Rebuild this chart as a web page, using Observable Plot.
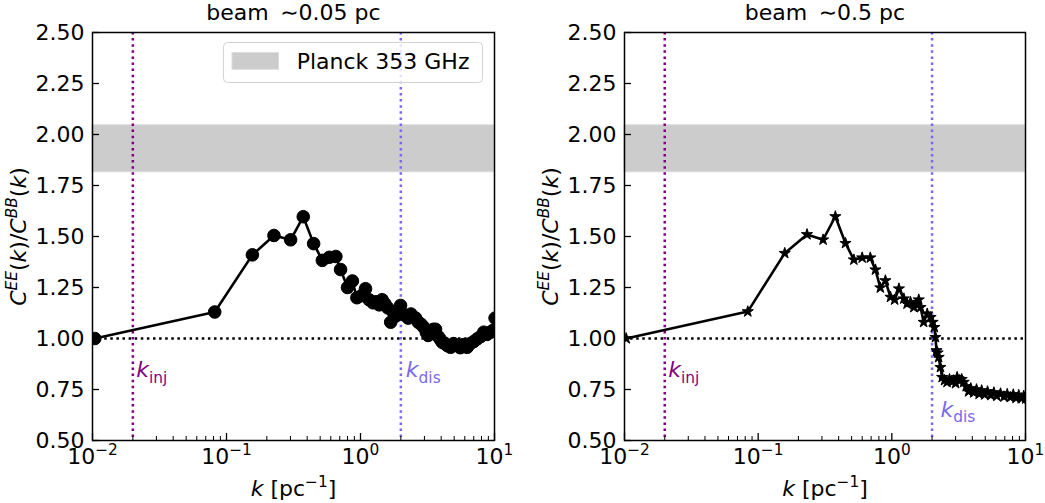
<!DOCTYPE html>
<html><head><meta charset="utf-8">
<script src="https://cdn.jsdelivr.net/npm/d3@7"></script>
<script src="https://cdn.jsdelivr.net/npm/@observablehq/plot@0.6"></script>
<style>
body{margin:0;background:#fff;}
#wrap{display:flex;width:1045px;height:503px;overflow:hidden;}
svg{font-family:"DejaVu Sans";}
</style></head><body><div id="wrap"></div>
<script>
// ---- data ----
const kLeft = [0.0104,0.0817,0.156,0.226,0.301,0.374,0.447,0.519,0.585,0.655,0.71,0.80,0.87,0.94,1.02,1.09,1.16,1.24,1.31,1.38,1.45,1.52,1.60,1.68,1.75,1.83,1.91,1.99,2.07,2.17,2.27,2.38,2.48,2.58,2.70,2.83,2.97,3.10,3.20,3.35,3.50,3.63,3.80,3.95,4.07,4.25,4.45,4.70,4.95,5.27,5.55,5.85,6.25,6.6,7.0,7.43,7.9,8.32,8.8,9.33,9.75,10.1];
const ratioLeft = [1.000,1.130,1.410,1.505,1.484,1.597,1.465,1.383,1.398,1.402,1.338,1.250,1.282,1.200,1.210,1.244,1.190,1.175,1.180,1.165,1.190,1.170,1.150,1.080,1.130,1.110,1.130,1.162,1.120,1.113,1.100,1.120,1.105,1.100,1.080,1.070,1.055,1.030,1.015,1.035,1.045,1.045,1.010,0.995,0.982,0.975,0.965,0.957,0.975,0.966,0.955,0.970,0.957,0.975,0.985,0.998,1.010,1.031,1.020,1.031,1.040,1.100];
const kRight = [0.0103,0.0836,0.158,0.232,0.306,0.378,0.450,0.520,0.600,0.690,0.754,0.820,0.895,0.977,1.05,1.13,1.23,1.30,1.38,1.46,1.52,1.59,1.64,1.73,1.84,1.95,2.02,2.08,2.12,2.16,2.20,2.24,2.31,2.38,2.48,2.59,2.70,2.80,2.90,3.00,3.08,3.20,3.33,3.45,3.6,3.75,3.9,4.1,4.3,4.5,4.7,4.95,5.2,5.5,5.8,6.1,6.5,6.9,7.3,7.7,8.1,8.5,8.9,9.3,9.7,10.05];
const ratioRight = [1.000,1.132,1.418,1.510,1.484,1.598,1.467,1.386,1.396,1.396,1.337,1.249,1.284,1.203,1.190,1.244,1.195,1.170,1.178,1.153,1.170,1.190,1.153,1.080,1.121,1.104,1.080,1.055,1.006,0.941,0.930,0.908,0.859,0.810,0.795,0.786,0.800,0.790,0.794,0.780,0.810,0.795,0.800,0.786,0.765,0.740,0.755,0.735,0.750,0.728,0.745,0.725,0.740,0.722,0.735,0.718,0.730,0.715,0.727,0.712,0.725,0.708,0.722,0.706,0.718,0.705];
const planckBand = [1.815, 2.045];
const kInj = 0.02, kDis = 2.0;
const titles = ["beam \u2009∼0.05 pc", "beam \u2009∼0.5 pc"];
const yLabel = "*C*^{*EE*}(*k*)/*C*^{*BB*}(*k*)";
const xLabel = "*k* [pc^{−1}]";
const legendLabel = "Planck 353 GHz";
const yTicks = [0.5,0.75,1.0,1.25,1.5,1.75,2.0,2.25,2.5];
const xTicks = [0.01,0.1,1,10];
const xTickLabels = ["10^{−2}","10^{−1}","10^{0}","10^{1}"];
const annLeft = [{k:kInj, y:0.809, t:"*k*_{inj}", c:"purple", dx:3.5},{k:kDis, y:0.809, t:"*k*_{dis}", c:"mediumslateblue", dx:5}];
const annRight = [{k:kInj, y:0.809, t:"*k*_{inj}", c:"purple", dx:3.5},{k:kDis, y:0.614, t:"*k*_{dis}", c:"mediumslateblue", dx:8.5}];

const BASE = 22;
function setRich(el, s) {
  while (el.firstChild) el.removeChild(el.firstChild);
  const segs = [];
  const push = (str, lvl, it) => { if (str) segs.push({str, lvl, it}); };
  let italic = false, cur = "", i = 0;
  while (i < s.length) {
    const c = s[i];
    if (c === "*") { push(cur, 0, italic); cur = ""; italic = !italic; i++; continue; }
    if ((c === "^" || c === "_") && s[i+1] === "{") {
      push(cur, 0, italic); cur = "";
      const j = s.indexOf("}", i);
      const inner = s.slice(i+2, j);
      const lvl = c === "^" ? 1 : -1;
      let it2 = italic, buf = "";
      for (const ch of inner) { if (ch === "*") { push(buf, lvl, it2); buf = ""; it2 = !it2; } else buf += ch; }
      push(buf, lvl, it2);
      i = j + 1; continue;
    }
    cur += c; i++;
  }
  push(cur, 0, italic);
  let prev = 0;
  for (const sg of segs) {
    const ts = document.createElementNS("http://www.w3.org/2000/svg", "tspan");
    const off = sg.lvl === 1 ? -0.40*BASE : sg.lvl === -1 ? 0.23*BASE : 0;
    const dy = off - prev; prev = off;
    if (dy) ts.setAttribute("dy", dy);
    if (sg.lvl) ts.setAttribute("font-size", 0.7*BASE);
    if (sg.it) ts.setAttribute("font-style", "italic");
    ts.textContent = sg.str;
    el.appendChild(ts);
  }
}
function richify(svg) {
  d3.select(svg).selectAll("text").each(function() {
    const s = this.textContent;
    if (/\^\{|_\{|\*/.test(s)) setRich(this, s);
  });
}

const minorTicks = d3.scaleLog().domain([0.01,10]).ticks().filter(t => !xTicks.some(m => Math.abs(m - t) < 1e-9));

function panel({k, r, symbol, rDot, width, ml, mr, title, ann}) {
  const data = k.map((x, i) => ({k: x, r: r[i]}));
  const H = 503, mt = 32, mb = 63;
  const innerW = width - ml - mr, innerH = H - mt - mb;
  const dotted = {strokeWidth: 2.5, strokeDasharray: "2.5,3.6"};
  return Plot.plot({
    width, height: H, marginLeft: ml, marginRight: mr, marginTop: mt, marginBottom: mb,
    style: {fontFamily: "DejaVu Sans", fontSize: "22px", background: "white", color: "black", overflow: "visible"},
    x: {type: "log", domain: [0.01, 10], label: null},
    y: {domain: [0.5, 2.5], label: null},
    marks: [
      Plot.rect([planckBand], {x1: () => 0.01, x2: () => 10, y1: d => d[0], y2: d => d[1], fill: "#cccccc", stroke: "#d9d9d9", strokeWidth: 1}),
      Plot.ruleX([kInj], {x: d => d, stroke: "purple", ...dotted}),
      Plot.ruleX([kDis], {x: d => d, stroke: "mediumslateblue", ...dotted}),
      Plot.ruleY([1], {y: d => d, stroke: "black", strokeWidth: 2.5, strokeDasharray: "2.5,3.6"}),
      Plot.line(data, {x: "k", y: "r", stroke: "black", strokeWidth: 2.6, clip: true}),
      Plot.dot(data, {x: "k", y: "r", r: rDot, symbol, fill: "black", stroke: "black", strokeWidth: 1, clip: true}),
      Plot.tickY(yTicks, {y: d => d, stroke: "black", strokeWidth: 1.3, insetRight: innerW - 7}),
      Plot.tickX(xTicks, {x: d => d, stroke: "black", strokeWidth: 1.3, insetTop: innerH - 7}),
      Plot.tickX(minorTicks, {x: d => d, stroke: "black", strokeWidth: 1, insetTop: innerH - 4}),
      Plot.frame({stroke: "black", strokeWidth: 1.5}),
      Plot.axisY(yTicks, {tickSize: 0, tickPadding: 8, tickFormat: d3.format(".2f"), fontSize: 22, label: null}),
      Plot.axisX(xTicks, {tickSize: 0, tickPadding: 8, tickFormat: d => xTickLabels[xTicks.indexOf(d)], fontSize: 22, label: null}),
      Plot.text([title], {text: d => d, frameAnchor: "top", dy: -13, lineAnchor: "bottom", fontSize: 22}),
      Plot.text([yLabel], {text: d => d, frameAnchor: "left", dx: -67, rotate: -90, lineAnchor: "bottom", textAnchor: "middle", fontSize: 22}),
      Plot.text([xLabel], {text: d => d, frameAnchor: "bottom", dy: 55, lineAnchor: "bottom", textAnchor: "middle", fontSize: 22}),
      ...ann.map(a => Plot.text([a], {x: "k", y: "y", text: "t", fill: a.c, dx: a.dx, textAnchor: "start", lineAnchor: "bottom", fontSize: 22}))
    ]
  });
}

const wrap = document.getElementById("wrap");
const svgL = panel({k: kLeft, r: ratioLeft, symbol: "circle", rDot: 6.3, width: 522, ml: 92, mr: 28, title: titles[0], ann: annLeft});
const svgR = panel({k: kRight, r: ratioRight, symbol: "star", rDot: 3.5, width: 523, ml: 102, mr: 20, title: titles[1], ann: annRight});
wrap.appendChild(svgL);
wrap.appendChild(svgR);

// legend (left panel)
const lg = d3.select(svgL).append("g").attr("text-anchor", "start");
lg.append("rect").attr("x", 223.5).attr("y", 42.5).attr("width", 259).attr("height", 40).attr("rx", 4)
  .attr("fill", "white").attr("fill-opacity", 0.8).attr("stroke", "#d3d3d3").attr("stroke-width", 1);
lg.append("rect").attr("x", 232).attr("y", 52.5).attr("width", 46.5).attr("height", 16.8)
  .attr("fill", "#cccccc").attr("stroke", "#dcdcdc").attr("stroke-width", 1);
lg.append("text").attr("x", 296.7).attr("y", 69.3).attr("font-size", 22).attr("fill", "black")
  .attr("text-anchor", "start").text(legendLabel);

richify(svgL);
richify(svgR);
</script></body></html>
